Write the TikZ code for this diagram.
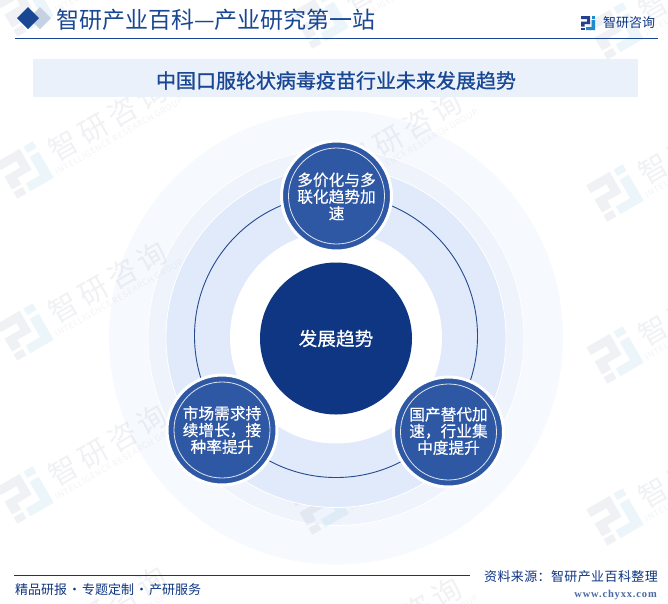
\documentclass[tikz,border=0pt]{standalone}
\usepackage{fontspec}
\setmainfont{Liberation Serif}
\newfontfamily\cjk{Noto Sans CJK SC}
\newfontfamily\cjkm[FakeBold=0.45]{Noto Sans CJK SC}
\newfontfamily\cjkt[FakeBold=0.9]{Noto Sans CJK SC}
\definecolor{navy}{HTML}{0E3682}
\definecolor{nodeblue}{HTML}{2E58A4}
\definecolor{headblue}{HTML}{1A4793}
\definecolor{band}{HTML}{EAF1FB}
\definecolor{ringa}{HTML}{F6F9FE}
\definecolor{ringb}{HTML}{EFF4FC}
\definecolor{ringc}{HTML}{E1EAFA}
\definecolor{logodark}{HTML}{24418F}
\definecolor{logolight}{HTML}{1E8AD0}
\definecolor{wmgrey}{HTML}{8A93A6}
\definecolor{wmblue}{HTML}{7FBBDD}
\tikzset{
  x=1pt,y=-1pt,
  ringdisc/.style={circle,minimum size=#1,inner sep=0pt,draw=white,line width=0.8pt},
  bubble/.style={circle,minimum size=110pt,inner sep=0pt,fill=nodeblue,draw=white,line width=3pt},
  innerring/.style={circle,minimum size=96pt,inner sep=0pt,draw=white!85!nodeblue,line width=0.8pt},
  bubbletext/.style={text=white,align=center,inner sep=0pt,font=\cjkm\fontsize{15.7}{16.7}\selectfont},
  wmbig/.style={rotate=30,text=wmgrey,text opacity=.12,inner sep=0pt,font=\cjk\fontsize{29}{29}\selectfont},
  wmsmall/.style={rotate=30,text=wmgrey,text opacity=.1,inner sep=0pt,font=\cjk\fontsize{8.4}{9}\selectfont},
}
\newcommand{\logodraw}[2]{%
  \fill[#1] (0,0)--(9,0)--(9,8)--(3.5,8)--(3.5,10.5)--(0,10.5)--(0,5.5)--(6,5.5)--(6,3)--(0,3)--cycle;
  \fill[#1] (0,11.5) rectangle (3.5,14);
  \fill[#2] (10.5,0) rectangle (14,2.5);
  \fill[#2] (10.5,4)--(14,4)--(14,14)--(5,14)--(5,11)--(10.5,11)--cycle;}
\newcommand{\wmark}[2]{%
  \begin{scope}[shift={(#1,#2)}]
    \begin{scope}[rotate=30,scale=3,shift={(-7,-7)}]
      \logodraw{wmgrey,opacity=.12}{wmblue,opacity=.14}
    \end{scope}
    \node[wmbig] (wm#1x#2a) at (83,-50) {\addfontfeature{LetterSpace=17}智研咨询};
    \node[wmsmall] (wm#1x#2b) at (94,-34) {\addfontfeature{LetterSpace=7}INTELLIGENCE RESEARCH GROUP};
  \end{scope}}
\begin{document}
\begin{tikzpicture}
\useasboundingbox (0,0) rectangle (668,603);
\fill[white] (0,0) rectangle (668,603);
% outer rings lie under the watermark
\node[ringdisc=454pt,fill=ringa,draw=none] (ra) at (336,337.5) {};
\node[ringdisc=376pt,fill=ringb] (rb) at (336,337.5) {};
% watermarks
\begin{scope}
\clip (0,0) rectangle (668,603);
\foreach \yy in {8,170,332,495,657} {\wmark{25}{\yy}}
\foreach \yy in {20,182,344,506,668} {\wmark{320}{\yy}}
\foreach \yy in {31,193,355,517} {\wmark{615}{\yy}}
\end{scope}
% inner rings cover it
\node[ringdisc=340pt,fill=ringc] (rc) at (336,337.5) {};
\node[ringdisc=212pt,fill=white,draw=none] (rd) at (336,337.5) {};
\node[circle,minimum size=283pt,inner sep=0pt,draw=navy!90!white,line width=0.9pt] (orbit) at (336,336) {};
% header
\fill[band] (33,59) rectangle (638,97);
\fill[headblue!25!white] (40,7) -- (51,18) -- (40,29) -- (29,18) -- cycle;
\fill[headblue] (28,7) -- (39,18) -- (28,29) -- (17,18) -- cycle;
\node[anchor=west,inner sep=0pt,text=headblue,font=\cjk\fontsize{23}{24}\selectfont] (brand) at (56,20) {智研产业百科—产业研究第一站};
\draw[headblue,line width=0.9pt] (15,38.5) -- (658,38.5);
\begin{scope}[shift={(581,16)}]
  \logodraw{logodark}{logolight}
\end{scope}
\node[anchor=west,inner sep=0pt,text=navy,font=\cjk\fontsize{13}{14}\selectfont] (corp) at (603,23) {智研咨询};
\node[inner sep=0pt,text=headblue,font=\cjkt\fontsize{20}{22}\selectfont] (title) at (336,80.5) {中国口服轮状病毒疫苗行业未来发展趋势};
% centre and bubbles
\node[circle,minimum size=152pt,inner sep=0pt,fill=navy,text=white,font=\cjkm\fontsize{18.7}{20}\selectfont] (core) at (336,338.5) {发展趋势};
\node[bubble] (top) at (336.5,196) {};
\node[innerring] (topring) at (top) {};
\node[bubbletext] (toptext) at (336.5,196.5) {多价化与多\\联化趋势加\\速};
\node[bubble] (lft) at (222,430) {};
\node[innerring] (lftring) at (lft) {};
\node[bubbletext] (lfttext) at (222,430) {市场需求持\\续增长，接\\种率提升};
\node[bubble] (rgt) at (448.5,432) {};
\node[innerring] (rgtring) at (rgt) {};
\node[bubbletext] (rgttext) at (448.5,431) {国产替代加\\速，行业集\\中度提升};
% footer
\draw[navy,line width=0.9pt] (14,575.5) -- (470,575.5);
\node[anchor=west,inner sep=0pt,text=navy,font=\cjk\fontsize{13}{14}\selectfont] (slogan) at (15,590) {精品研报\makebox[15pt][c]{·}专题定制\makebox[15pt][c]{·}产研服务};
\node[anchor=east,inner sep=0pt,text=navy,font=\cjk\fontsize{13}{14}\selectfont] (source) at (658,577) {\addfontfeature{LetterSpace=3}资料来源：智研产业百科整理};
\node[anchor=east,inner sep=0pt,text=navy!75!white,font=\bfseries\fontsize{10.5}{12}\selectfont] (url) at (657,595) {\addfontfeature{LetterSpace=8}www.chyxx.com};
\end{tikzpicture}
\end{document}
